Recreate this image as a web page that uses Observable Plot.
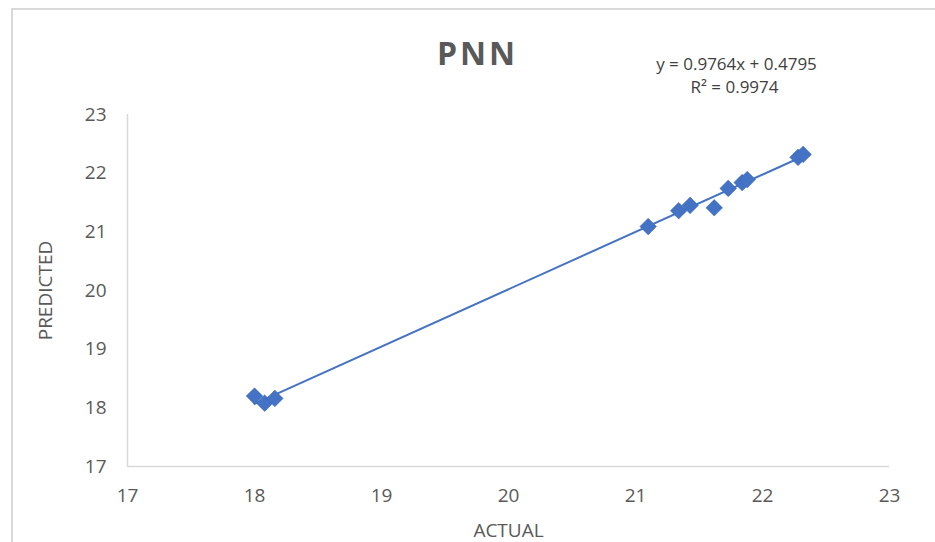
<!DOCTYPE html>
<html>
<head>
<meta charset="utf-8">
<script src="https://cdn.jsdelivr.net/npm/d3@7"></script>
<script src="https://cdn.jsdelivr.net/npm/@observablehq/plot@0.6"></script>
<style>
  html, body { margin: 0; padding: 0; background: #fff; }
  #wrap { position: relative; width: 935px; height: 542px; overflow: hidden; }
  #frame { position: absolute; left: 11px; top: 8px; width: 940px; height: 560px;
           border-left: 2px solid #d9d9d9; border-top: 2px solid #d9d9d9; }
  #chart { position: absolute; left: 0; top: 0; }
</style>
</head>
<body>
<div id="wrap"><div id="frame"></div><div id="chart"></div></div>
<script>
const actual    = [18.00, 18.08, 18.16, 21.10, 21.34, 21.43, 21.62, 21.73, 21.84, 21.88, 22.28, 22.32];
const predicted = [18.20, 18.08, 18.16, 21.09, 21.36, 21.45, 21.41, 21.74, 21.84, 21.89, 22.27, 22.32];
const ticks = [17, 18, 19, 20, 21, 22, 23];
const titleText = "PNN";
const equation = "y = 0.9764x + 0.4795";
const rSquared = "R\u00b2 = 0.9974";
const xTitle = "ACTUAL";
const yTitle = "PREDICTED";

const data = actual.map((a, i) => ({actual: a, predicted: predicted[i]}));
const blue = "#4472C4";
const gray = "#595959";
const font = "'Open Sans', Lato, sans-serif";

const chart = Plot.plot({
  width: 935,
  height: 542,
  marginLeft: 127,
  marginRight: 46,
  marginTop: 114,
  marginBottom: 76,
  style: {fontFamily: font, fontSize: "19px", color: gray, background: "transparent", overflow: "visible"},
  x: {domain: [17, 23], ticks: ticks, tickFormat: d => String(d), tickSize: 0, tickPadding: 22, label: null},
  y: {domain: [17, 23], ticks: ticks, tickFormat: d => String(d), tickSize: 0, tickPadding: 21, label: null},
  marks: [
    Plot.ruleY([17], {stroke: "#d9d9d9", strokeWidth: 1.5}),
    Plot.ruleX([17], {stroke: "#d9d9d9", strokeWidth: 1.5}),
    Plot.linearRegressionY(data, {x: "actual", y: "predicted", ci: 0, stroke: blue, strokeWidth: 2}),
    Plot.dot(data, {x: "actual", y: "predicted", symbol: "diamond2", r: 7.5, fill: blue, stroke: "#3a66b8", strokeWidth: 0.5}),
    Plot.text([titleText], {frameAnchor: "top", dx: -31, dy: -60, fontSize: 32, fontWeight: "bold", fill: gray, lineAnchor: "middle", textAnchor: "middle"}),
    Plot.text([equation], {frameAnchor: "top", dx: 228, dy: -50, fontSize: 17, fill: "#404040", lineAnchor: "middle"}),
    Plot.text([rSquared], {frameAnchor: "top", dx: 226, dy: -27, fontSize: 17, fill: "#404040", lineAnchor: "middle"}),
    Plot.text([xTitle], {frameAnchor: "bottom", dy: 64, fontSize: 19, fill: gray, lineAnchor: "middle"}),
    Plot.text([yTitle], {frameAnchor: "left", dx: -82, rotate: -90, fontSize: 19, fill: gray, lineAnchor: "middle", textAnchor: "middle"})
  ]
});
chart.querySelectorAll("text").forEach(t => {
  if (t.textContent === titleText) t.setAttribute("letter-spacing", "3");
});
document.getElementById("chart").appendChild(chart);
</script>
</body>
</html>
